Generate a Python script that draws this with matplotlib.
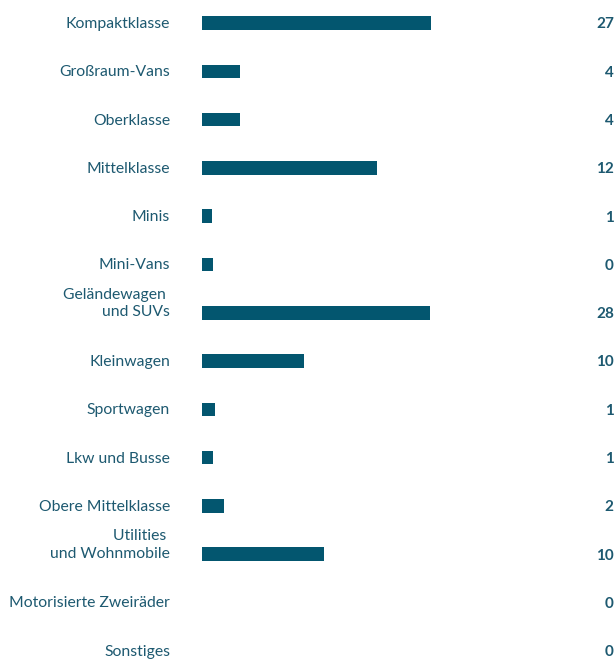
import matplotlib
matplotlib.use('Agg')
import matplotlib.pyplot as plt
import matplotlib.transforms as mtransforms

# Kategorien (von oben nach unten)
kategorien = ['Kompaktklasse', 'Großraum-Vans', 'Oberklasse', 'Mittelklasse', 'Minis',
              'Mini-Vans', 'Geländewagen \nund SUVs', 'Kleinwagen', 'Sportwagen',
              'Lkw und Busse', 'Obere Mittelklasse', 'Utilities \nund Wohnmobile',
              'Motorisierte Zweiräder', 'Sonstiges']
# Balkenlängen (aus dem Bild geschätzt)
balken = [27.0, 4.5, 4.5, 20.6, 1.2, 1.25, 26.9, 12.0, 1.5, 1.25, 2.55, 14.4, 0, 0]
# angezeigte Werte
werte = ['27', '4', '4', '12', '1', '0', '28', '10', '1', '1', '2', '10', '0', '0']

balken_farbe = '#03566f'
text_farbe = '#1d5970'

plt.rcParams['font.family'] = ['Lato', 'DejaVu Sans']

fig = plt.figure(figsize=(6.15, 6.59), dpi=100)
ax = fig.add_axes([202 / 615, 0, 339 / 615, 1])

y = list(range(len(kategorien)))
ax.barh(y, balken, height=0.28, color=balken_farbe)
ax.set_xlim(0, 40)
ax.set_ylim(13.17, -0.476)
ax.axis('off')

trans = mtransforms.blended_transform_factory(fig.transFigure, ax.transData)
for i, (k, w) in enumerate(zip(kategorien, werte)):
    zeilen = k.count('\n')
    ax.text(170 / 615, i - 0.21 * zeilen + 0.02, k, transform=trans, ha='right', va='center',
            multialignment='right', fontsize=11.3, color=text_farbe, linespacing=1.3)
    ax.text(0.998, i + 0.03, w, transform=trans, ha='right', va='center',
            fontsize=11, fontweight='bold', color=text_farbe)

fig.savefig('out.png', dpi=100)
